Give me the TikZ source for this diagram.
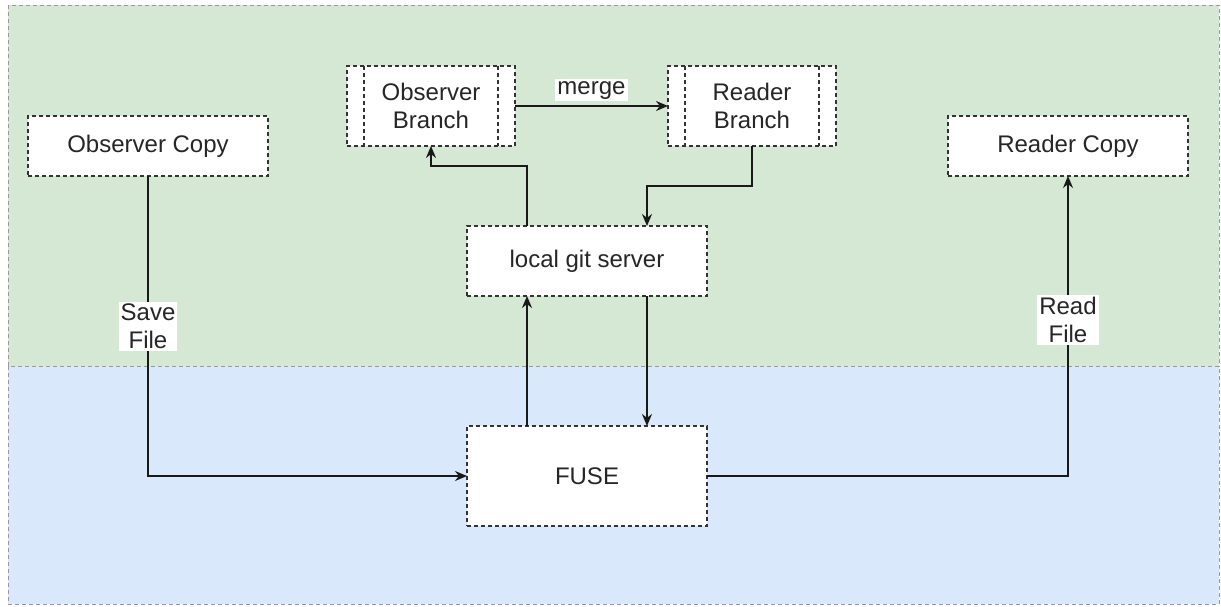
\documentclass[tikz,border=0pt]{standalone}
\usepackage{fontspec}
\setmainfont{Liberation Sans}
\usetikzlibrary{arrows.meta}

\definecolor{greenzone}{HTML}{D5E8D4}
\definecolor{bluezone}{HTML}{DAE8FC}

\tikzset{
  box/.style={draw=black!80, dash pattern=on 2pt off 1.5pt, line width=0.7pt,
    fill=white, text=black!85, minimum width=120pt, minimum height=30pt,
    inner sep=0pt, outer sep=0pt, align=center, font=\fontsize{12}{14}\selectfont},
  branch/.style={box, minimum width=84pt, minimum height=40pt,
    path picture={\draw[black!80, dash pattern=on 2pt off 1.5pt, line width=0.7pt]
      ([xshift=8.5pt]path picture bounding box.north west) -- ([xshift=8.5pt]path picture bounding box.south west)
      ([xshift=-8.5pt]path picture bounding box.north east) -- ([xshift=-8.5pt]path picture bounding box.south east);}},
  link/.style={-{Stealth[length=6pt,width=5pt]}, line width=0.8pt, black!90},
  tag/.style={fill=white, inner sep=1pt, align=center, text=black!85,
    font=\fontsize{12}{14}\selectfont}
}

\begin{document}
\begin{tikzpicture}[x=0.5pt, y=-0.5pt]
  \useasboundingbox (0,0) rectangle (1221,606);
  % zones
  \filldraw[fill=greenzone, draw=black!40, dash pattern=on 2pt off 1.5pt, line width=0.5pt] (8,5) rectangle (1219,366);
  \filldraw[fill=bluezone, draw=black!40, dash pattern=on 2pt off 1.5pt, line width=0.5pt] (8,366) rectangle (1219,604);

  \node[box] (obscopy) at (148, 146) {Observer Copy};
  \node[box] (readcopy) at (1068, 146) {Reader Copy};
  \node[branch] (obsbranch) at (431, 106) {Observer\\Branch};
  \node[branch] (readbranch) at (752, 106) {Reader\\Branch};
  \node[box, minimum height=35pt] (git) at (587, 261) {local git server};
  \node[box, minimum height=50pt] (fuse) at (587, 476) {FUSE};

	\draw[link] (obscopy) |- node[tag, pos=0.25] {Save\\File} (fuse);
	\draw[link] (fuse) -| node[tag, pos=0.76] {Read\\File} (readcopy);
	\draw[link] ([xshift=-30pt]fuse.north) -- ([xshift=-30pt]git.south);
	\draw[link] ([xshift=30pt]git.south) -- ([xshift=30pt]fuse.north);
	\draw[link] ([xshift=-30pt]git.north) -- ++(0,-60) -| (obsbranch);
	\draw[link] (readbranch.south) -- ++(0,40) -| ([xshift=30pt]git.north);
	\draw[link] (obsbranch) -- node[tag, above=2pt] {merge} (readbranch);

\end{tikzpicture}
\end{document}
